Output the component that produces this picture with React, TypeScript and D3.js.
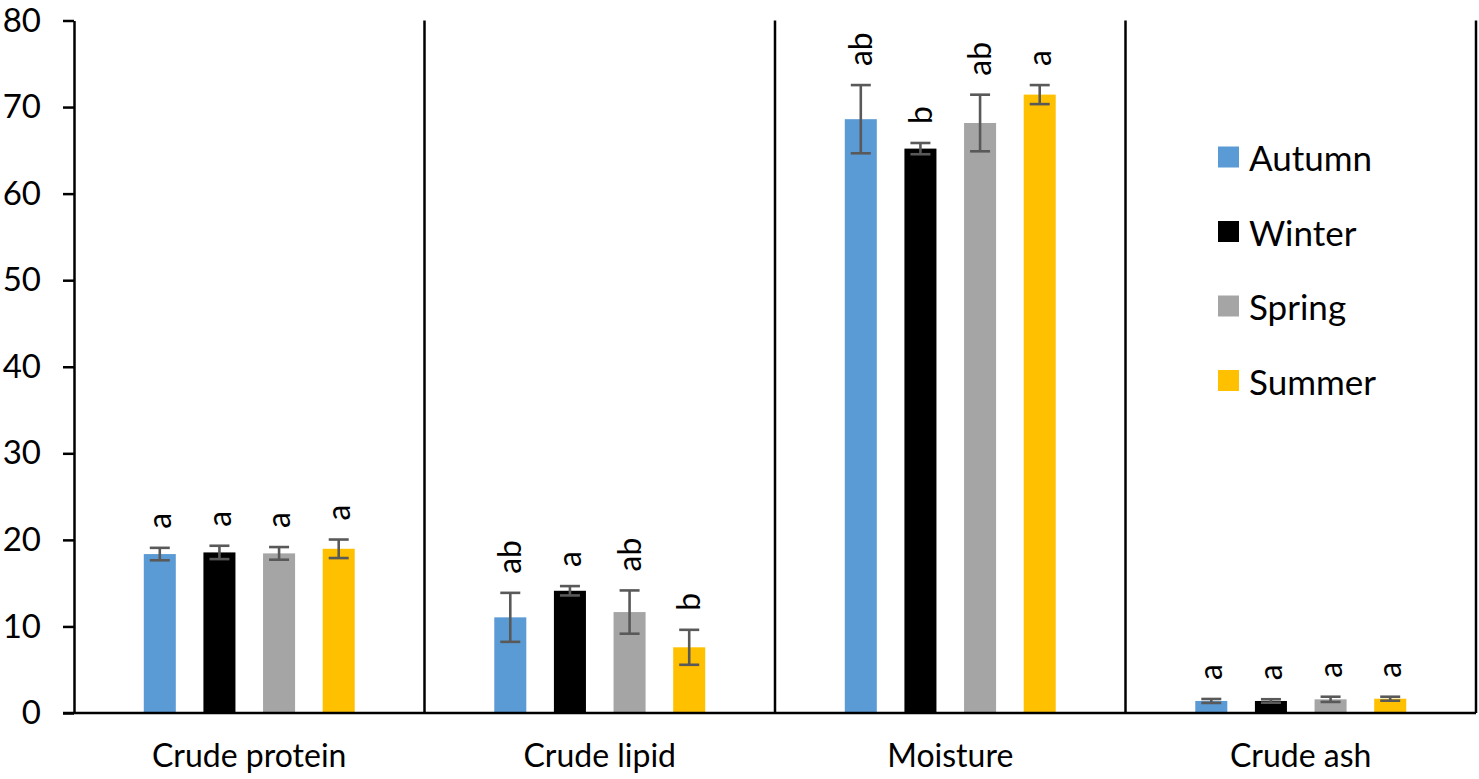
import { useEffect, useRef } from "react";
import * as d3 from "d3";

const categories = ["Crude protein", "Crude lipid", "Moisture", "Crude ash"];
const seasons = ["Autumn", "Winter", "Spring", "Summer"];
const colors = ["#5B9BD5", "#000000", "#A5A5A5", "#FFC000"];

const autumnMean = [18.36, 11.05, 68.6, 1.39];
const winterMean = [18.55, 14.12, 65.2, 1.39];
const springMean = [18.44, 11.66, 68.16, 1.58];
const summerMean = [18.97, 7.59, 71.44, 1.65];

const autumnErr = [0.72, 2.83, 3.94, 0.23];
const winterErr = [0.77, 0.54, 0.65, 0.2];
const springErr = [0.73, 2.5, 3.27, 0.3];
const summerErr = [1.07, 2.02, 1.1, 0.23];

const autumnLetters = ["a", "ab", "ab", "a"];
const winterLetters = ["a", "a", "b", "a"];
const springLetters = ["a", "ab", "ab", "a"];
const summerLetters = ["a", "b", "a", "a"];

const yTicks = [0, 10, 20, 30, 40, 50, 60, 70, 80];

const means = [autumnMean, winterMean, springMean, summerMean];
const errs = [autumnErr, winterErr, springErr, summerErr];
const letters = [autumnLetters, winterLetters, springLetters, summerLetters];

const FONT = "Lato, 'Open Sans', sans-serif";

const App = () => {
	const svgRef = useRef<SVGSVGElement>(null);

	useEffect(() => {
		if (!svgRef.current) return;
		const width = 1479;
		const height = 779;
		const margin = { top: 20.5, left: 74, right: 3, bottom: 66 };

		const svg = d3.select(svgRef.current);
		svg.selectAll("*").remove();

		const x = d3
			.scaleBand()
			.domain(categories)
			.range([margin.left, width - margin.right])
			.padding(0);

		const xInner = d3
			.scaleBand()
			.domain(seasons)
			.range([0, x.bandwidth()])
			.paddingInner(0.463)
			.paddingOuter(1.17);

		const y = d3
			.scaleLinear()
			.domain([0, 80])
			.range([height - margin.bottom, margin.top]);

		// bars
		categories.forEach((cat, ci) => {
			seasons.forEach((s, si) => {
				const v = means[si][ci];
				const e = errs[si][ci];
				const bx = (x(cat) as number) + (xInner(s) as number);
				const cx = bx + xInner.bandwidth() / 2;

				svg
					.append("rect")
					.attr("x", bx)
					.attr("y", y(v))
					.attr("width", xInner.bandwidth())
					.attr("height", y(0) - y(v))
					.attr("fill", colors[si]);

				// error bar
				const eb = svg.append("g").attr("stroke", "#595959").attr("stroke-width", 2.6);
				eb.append("line")
					.attr("x1", cx)
					.attr("x2", cx)
					.attr("y1", y(v + e))
					.attr("y2", y(v - e));
				[v + e, v - e].forEach((t) => {
					eb.append("line")
						.attr("x1", cx - 10)
						.attr("x2", cx + 10)
						.attr("y1", y(t))
						.attr("y2", y(t));
				});

				// letter
				const ly = y(v + e) - 19;
				svg
					.append("text")
					.attr("transform", `translate(${cx + 3},${ly}) rotate(-90)`)
					.attr("dominant-baseline", "middle")
					.attr("text-anchor", "start")
					.attr("font-family", FONT)
					.attr("font-size", 32)
					.attr("fill", "#000")
					.text(letters[si][ci]);
			});
		});

		// separators between groups
		categories.forEach((cat) => {
			const sx = (x(cat) as number) + x.bandwidth();
			svg
				.append("line")
				.attr("x1", sx)
				.attr("x2", sx)
				.attr("y1", y(80))
				.attr("y2", y(0))
				.attr("stroke", "#000")
				.attr("stroke-width", 2.5);
		});

		// y axis
		const yAxis = d3
			.axisLeft(y)
			.tickValues(yTicks)
			.tickSize(11)
			.tickSizeOuter(0)
			.tickPadding(22);

		const gy = svg
			.append("g")
			.attr("transform", `translate(${margin.left},0)`)
			.call(yAxis);
		gy.selectAll("line").attr("stroke", "#000").attr("stroke-width", 2.5);
		gy.select(".domain").attr("stroke", "#000").attr("stroke-width", 2.5);
		gy.selectAll("text")
			.attr("font-family", FONT)
			.attr("font-size", 33)
			.attr("fill", "#000");

		// x axis baseline
		svg
			.append("line")
			.attr("x1", margin.left - 11)
			.attr("x2", width - margin.right)
			.attr("y1", y(0))
			.attr("y2", y(0))
			.attr("stroke", "#000")
			.attr("stroke-width", 2.5);

		// category labels
		categories.forEach((cat) => {
			svg
				.append("text")
				.attr("x", (x(cat) as number) + x.bandwidth() / 2)
				.attr("y", 767)
				.attr("text-anchor", "middle")
				.attr("font-family", FONT)
				.attr("font-size", 32)
				.attr("fill", "#000")
				.text(cat);
		});

		// legend
		const legend = svg.append("g").attr("transform", "translate(1218,157)");
		seasons.forEach((s, i) => {
			const row = legend.append("g").attr("transform", `translate(0,${i * 74.5})`);
			row.append("rect")
				.attr("x", 0)
				.attr("y", -10.5)
				.attr("width", 21)
				.attr("height", 21)
				.attr("fill", colors[i]);
			row.append("text")
				.attr("x", 31)
				.attr("y", 0)
				.attr("dominant-baseline", "central")
				.attr("font-family", FONT)
				.attr("font-size", 35)
				.attr("fill", "#000")
				.text(s);
		});
	}, []);

	return (
		<svg
			ref={svgRef}
			width={1479}
			height={779}
			style={{ position: "absolute", left: 0, top: 0, background: "#fff" }}
		></svg>
	);
};

export default App;
